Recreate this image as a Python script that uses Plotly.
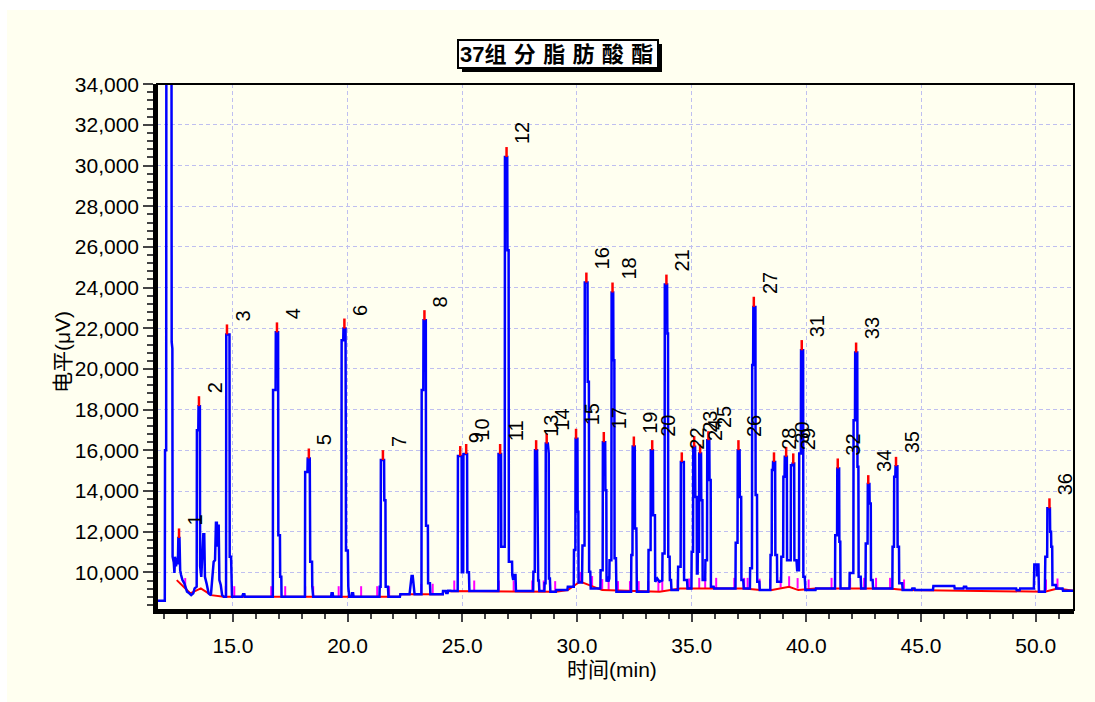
import plotly.graph_objects as go

# ---------------- data ----------------
# chromatogram signal (time in min, level in uV)
trace_time = [
    11.69, 12.03, 12.04, 12.09, 12.10, 12.32, 12.33, 12.36, 12.37, 12.42, 12.45, 12.48, 12.52, 12.55, 12.60,
    12.62, 12.67, 12.70, 12.74, 12.80, 12.88, 12.93, 13.00, 13.10, 13.18, 13.27, 13.33, 13.42, 13.43, 13.49,
    13.50, 13.56, 13.57, 13.62, 13.67, 13.71, 13.75, 13.78, 13.85, 13.94, 14.04, 14.10, 14.16, 14.22, 14.26,
    14.30, 14.32, 14.35, 14.38, 14.41, 14.47, 14.53, 14.60, 14.70, 14.71, 14.85, 14.86, 14.92, 14.93, 14.96,
    15.40, 15.44, 15.50, 15.52, 16.74, 16.75, 16.86, 16.87, 16.97, 16.98, 17.05, 17.06, 17.11, 17.12,
    18.14, 18.15, 18.25, 18.26, 18.35, 18.37, 18.45, 18.46, 18.50, 19.28, 19.30, 19.35, 19.37,
    19.73, 19.74, 19.81, 19.82, 19.91, 19.93, 20.01, 20.03, 20.07, 20.17, 20.19, 20.24, 20.26,
    21.39, 21.40, 21.44, 21.45, 21.59, 21.60, 21.65, 21.66, 21.76, 21.78, 22.28, 22.30, 22.70, 22.74,
    22.79, 22.84, 22.87, 22.92, 23.22, 23.23, 23.30, 23.31, 23.41, 23.42, 23.50, 23.51, 23.59, 23.61,
    24.15, 24.16, 24.28, 24.30, 24.36, 24.38, 24.50, 24.52, 24.80, 24.81, 24.97, 24.98, 25.04, 25.05,
    25.21, 25.22, 25.29, 25.31, 26.57, 26.58, 26.69, 26.70, 26.85, 26.86, 26.96, 26.97, 27.02, 27.03,
    27.17, 27.18, 27.22, 27.25, 27.32, 27.34, 28.09, 28.10, 28.16, 28.17, 28.26, 28.27, 28.30, 28.31,
    28.34, 28.36, 28.58, 28.59, 28.63, 28.64, 28.73, 28.74, 28.77, 28.78, 28.82, 28.84, 29.08, 29.10,
    29.58, 29.60, 29.86, 29.87, 29.93, 29.94, 30.02, 30.03, 30.06, 30.07, 30.22, 30.24, 30.33, 30.34,
    30.46, 30.47, 30.52, 30.53, 30.58, 30.60, 31.02, 31.03, 31.12, 31.13, 31.23, 31.24, 31.28, 31.29,
    31.33, 31.37, 31.41, 31.42, 31.50, 31.51, 31.58, 31.59, 31.63, 31.64, 31.70, 31.72, 32.36, 32.37,
    32.42, 32.43, 32.52, 32.53, 32.59, 32.61, 33.11, 33.12, 33.21, 33.22, 33.31, 33.32, 33.40, 33.41,
    33.50, 33.60, 33.72, 33.73, 33.82, 33.83, 33.93, 33.94, 33.97, 33.98, 34.04, 34.05, 34.10, 34.12,
    34.40, 34.41, 34.52, 34.53, 34.66, 34.67, 34.80, 34.82, 34.99, 35.00, 35.06, 35.07, 35.15, 35.16,
    35.22, 35.23, 35.26, 35.27, 35.32, 35.33, 35.41, 35.42, 35.47, 35.48, 35.59, 35.60, 35.67, 35.68,
    35.77, 35.78, 35.83, 35.84, 35.96, 35.98, 36.91, 36.92, 37.00, 37.01, 37.09, 37.10, 37.16, 37.17,
    37.25, 37.27, 37.54, 37.55, 37.63, 37.64, 37.68, 37.69, 37.78, 37.79, 37.85, 37.86, 37.95, 37.97,
    38.43, 38.44, 38.49, 38.50, 38.54, 38.55, 38.64, 38.65, 38.72, 38.73, 38.90, 38.91, 38.99, 39.00,
    39.05, 39.06, 39.15, 39.16, 39.32, 39.33, 39.39, 39.40, 39.47, 39.48, 39.57, 39.60, 39.68, 39.69,
    39.76, 39.77, 39.86, 39.87, 39.93, 39.96, 40.40, 40.42, 41.25, 41.26, 41.34, 41.35, 41.43, 41.44,
    41.48, 41.49, 41.88, 41.89, 42.05, 42.06, 42.12, 42.13, 42.22, 42.23, 42.27, 42.28, 42.37, 42.39,
    42.58, 42.59, 42.67, 42.68, 42.75, 42.76, 42.81, 42.82, 42.89, 42.91, 43.75, 43.76, 43.82, 43.83,
    43.88, 43.89, 43.97, 43.98, 44.04, 44.05, 44.18, 44.20, 44.60, 44.62, 44.72, 44.74, 45.52, 45.54,
    46.45, 46.47, 46.85, 46.87, 46.97, 46.99, 49.15, 49.17, 49.30, 49.32, 49.92, 49.94, 50.05, 50.06,
    50.08, 50.12, 50.14, 50.40, 50.42, 50.50, 50.51, 50.62, 50.63, 50.67, 50.68, 50.72, 50.73, 50.88,
    50.90, 51.17, 51.19, 51.67,
]
trace_uv = [
    8610, 8610, 16000, 16000, 40000, 40000, 21330, 21000, 10770, 10500, 9970, 10770, 10300, 10700, 10400,
    11690, 11690, 10110, 9870, 9620, 9460, 9290, 9050, 8970, 8880, 8970, 9210, 9300, 16990, 16990,
    18170, 18170, 10300, 9780, 10930, 11880, 11880, 9780, 9460, 8970, 8880, 9620, 10520, 10600, 12440,
    12440, 11260, 12290, 12290, 9620, 9380, 8880, 8800, 8800, 21700, 21700, 10770, 10770, 9780, 8800,
    8800, 8920, 8920, 8800, 8800, 18960, 18960, 21800, 21800, 11830, 11830, 9780, 9780, 8800,
    8800, 14940, 14940, 15600, 15600, 10520, 10520, 9300, 8800, 8800, 8970, 8970, 8800,
    8800, 21410, 21410, 21990, 21990, 11070, 11070, 9300, 8800, 8800, 8970, 8970, 8800,
    8800, 9290, 9290, 15520, 15520, 13550, 13550, 9290, 9290, 8800, 8800, 8920, 8920, 9300,
    9820, 9820, 9300, 8920, 8920, 18970, 18970, 22400, 22400, 12290, 12290, 9460, 9460, 8920,
    8920, 9080, 9080, 8980, 8980, 9100, 9100, 9080, 9080, 15720, 15720, 10000, 10000, 15820,
    15820, 10000, 10000, 9080, 9080, 15820, 15820, 11260, 11260, 30420, 30420, 25840, 25840, 10520,
    10520, 9870, 9620, 9870, 9870, 9080, 9080, 10030, 10030, 16010, 16010, 13000, 13000, 9600,
    9600, 9080, 9080, 9460, 9460, 16330, 16330, 15850, 15850, 9700, 9700, 9050, 9050, 9130,
    9130, 9290, 9290, 11100, 11100, 16570, 16570, 12980, 12980, 9500, 9500, 11320, 11320, 24250,
    24250, 19370, 19370, 10030, 10030, 9210, 9210, 10110, 10110, 16400, 16400, 14040, 14040, 9540,
    9800, 9540, 9700, 10600, 10600, 23760, 23760, 20430, 20430, 10690, 10690, 9050, 9050, 10850,
    10850, 16190, 16190, 12160, 12160, 9050, 9050, 11100, 11100, 16010, 16010, 12810, 12810, 9540,
    9700, 9540, 9600, 10930, 10930, 24150, 24150, 21740, 21740, 10770, 10770, 9620, 9620, 9130,
    9130, 10280, 10280, 15430, 15430, 9620, 9620, 9210, 9210, 11010, 11010, 16170, 16170, 13710,
    13710, 9950, 9950, 11010, 11010, 15850, 15850, 13550, 13550, 9620, 9620, 10600, 10600, 16500,
    16500, 14540, 14540, 9290, 9290, 9210, 9210, 11460, 11460, 16010, 16010, 13710, 13710, 9620,
    9620, 9210, 9210, 10200, 10200, 20190, 20190, 23050, 23050, 13800, 13800, 9540, 9540, 9130,
    9130, 10850, 10850, 15030, 15030, 15430, 15430, 10850, 10850, 9540, 9540, 10770, 10770, 14700,
    14700, 15680, 15680, 10600, 10600, 15270, 15270, 15350, 15350, 10600, 10600, 10110, 10110, 15850,
    15850, 20920, 20920, 9780, 9780, 9130, 9130, 9210, 9210, 11830, 11830, 15110, 15110, 11500,
    11500, 9210, 9210, 9970, 9970, 17480, 17480, 20810, 20810, 15190, 15190, 9780, 9780, 9210,
    9210, 11420, 11420, 14340, 14340, 13390, 13390, 9620, 9620, 9210, 9210, 11260, 11260, 14700,
    14700, 15220, 15220, 11260, 11260, 9460, 9460, 9130, 9130, 9210, 9210, 9130, 9130, 9330,
    9330, 9210, 9210, 9290, 9290, 9210, 9210, 9120, 9120, 9210, 9210, 10390, 10390, 9800,
    10390, 10390, 9050, 9050, 10770, 10770, 13150, 13150, 12000, 12000, 11260, 11260, 9380, 9380,
    9210, 9210, 9100, 9100,
]

# identified peaks: label, retention time, marked apex (red) and drawn apex (blue)
peak_labels = ["1", "2", "3", "4", "5", "6", "7", "8", "9", "10", "11", "12", "13", "14", "15", "16",
               "17", "18", "19", "20", "21", "22", "23", "24", "25", "26", "27", "28", "29", "30",
               "31", "32", "33", "34", "35", "36"]
peak_rt = [12.65, 13.52, 14.74, 16.92, 18.31, 19.86, 21.54, 23.35, 24.91, 25.17, 26.65, 26.93,
           28.22, 28.68, 29.96, 30.41, 31.17, 31.55, 32.48, 33.28, 33.90, 34.57, 35.11, 35.37,
           35.73, 37.04, 37.71, 38.59, 39.43, 39.12, 39.80, 41.37, 42.17, 42.70, 43.91, 50.60]
peak_top_uv = [12160, 18660, 22190, 22290, 16090, 22480, 16010, 22890, 16210, 16310, 16310, 30910,
               16500, 16830, 17060, 24740, 16900, 24250, 16680, 16500, 24640, 15900, 16700, 16290,
               16940, 16500, 23550, 15900, 15850, 16170, 21420, 15600, 21300, 14780, 15680, 13640]
peak_apex_uv = [11690, 18170, 21700, 21800, 15600, 21990, 15520, 22400, 15720, 15820, 15820, 30420,
                16010, 16330, 16570, 24250, 16400, 23760, 16190, 16010, 24150, 15430, 16170, 15850,
                16500, 16010, 23050, 15430, 15350, 15680, 20920, 15110, 20810, 14340, 15220, 13150]

# integration baseline (red)
baseline_time = [12.55, 13.14, 13.60, 13.90, 14.05, 14.60, 22.28, 22.30, 24.15, 24.16, 29.08, 29.60,
                 30.14, 31.10, 33.60, 34.50, 37.30, 38.00, 38.50, 39.25, 39.65, 40.40, 43.60, 44.30,
                 50.40, 50.95, 51.67]
baseline_uv = [9620, 8970, 9210, 8960, 8880, 8800, 8800, 8920, 8920, 9080, 9050, 9130,
               9550, 9130, 9050, 9210, 9210, 9130, 9130, 9290, 9130, 9210, 9210, 9130,
               9050, 9210, 9100]

# peak start / end markers (magenta)
mark_time = [12.92, 14.69, 15.06, 16.67, 17.28, 18.15, 18.50, 19.61, 20.59, 21.29, 21.81, 23.21,
             23.71, 24.65, 25.52, 26.59, 27.24, 28.05, 28.55, 29.05, 30.14, 30.66, 31.10, 31.38,
             31.79, 32.31, 32.69, 33.11, 33.55, 33.72, 34.39, 34.89, 35.33, 35.59, 36.07, 36.86,
             37.29, 37.44, 37.96, 38.42, 38.88, 39.25, 39.62, 40.10, 41.10, 41.91, 42.52, 43.04,
             43.65, 44.26, 50.45, 50.95]
mark_base_uv = [9200, 8800, 8800, 8800, 8800, 8800, 8800, 8800, 8800, 8800, 8800, 8920,
                8920, 9080, 9080, 9080, 9080, 9080, 9080, 9050, 9500, 9300, 9150, 9100,
                9050, 9050, 9050, 9050, 9080, 9100, 9130, 9180, 9210, 9210, 9210, 9210,
                9210, 9210, 9170, 9170, 9250, 9290, 9200, 9130, 9210, 9210, 9210, 9210,
                9210, 9130, 9130, 9180]

x_tick_vals = [15, 20, 25, 30, 35, 40, 45, 50]
x_tick_text = ["15.0", "20.0", "25.0", "30.0", "35.0", "40.0", "45.0", "50.0"]
y_tick_vals = [10000, 12000, 14000, 16000, 18000, 20000, 22000, 24000, 26000, 28000, 30000, 32000, 34000]
y_tick_text = ["10,000", "12,000", "14,000", "16,000", "18,000", "20,000", "22,000", "24,000",
               "26,000", "28,000", "30,000", "32,000", "34,000"]

title_text = "37组\u2004分\u2004脂\u2004肪\u2004酸\u2004酯"
x_title = "时间(min)"
y_title = "电平(μV)"

# ---------------- styling ----------------
MARK_LEN = 520
CREAM = "#FFFFF0"
GRID = "#BFBFF0"
LATIN = "Liberation Sans, Arial, Noto Sans CJK SC, sans-serif"
W, H = 1095, 702
ML, MR, MT, MB = 157, 21, 84, 92
PW, PH = W - ML - MR, H - MT - MB


def px_x(p):
    return (p - ML) / PW


def px_y(p):
    return (H - MB - p) / PH


fig = go.Figure()

mx, my = [], []
for t, b in zip(mark_time, mark_base_uv):
    mx += [t, t, None]
    my += [b, b + MARK_LEN, None]
fig.add_trace(go.Scatter(x=mx, y=my, mode="lines", line=dict(color="#FF00FF", width=2),
                         hoverinfo="skip"))

fig.add_trace(go.Scatter(x=baseline_time, y=baseline_uv, mode="lines",
                         line=dict(color="#FF0000", width=2), hoverinfo="skip"))

fig.add_trace(go.Scatter(x=trace_time, y=trace_uv, mode="lines",
                         line=dict(color="#0000FF", width=2.5)))

rx, ry = [], []
for t, a, p in zip(peak_rt, peak_apex_uv, peak_top_uv):
    rx += [t, t, None]
    ry += [a, p, None]
fig.add_trace(go.Scatter(x=rx, y=ry, mode="lines", line=dict(color="#FF0000", width=2.5),
                         hoverinfo="skip"))

for lab, t, p in zip(peak_labels, peak_rt, peak_top_uv):
    fig.add_annotation(x=t, y=p, text=lab, textangle=-90, showarrow=False,
                       xanchor="center", yanchor="bottom", xshift=15.5, yshift=1,
                       font=dict(family=LATIN, size=20, color="black"))

# axis titles
fig.add_annotation(xref="paper", yref="paper", x=px_x(612), y=px_y(669), text=x_title,
                   showarrow=False, xanchor="center", yanchor="middle",
                   font=dict(family=LATIN, size=21, color="black"))
fig.add_annotation(xref="paper", yref="paper", x=px_x(62), y=px_y(352), text=y_title,
                   textangle=-90, showarrow=False, xanchor="center", yanchor="middle",
                   font=dict(family=LATIN, size=21, color="black"))

# title box with shadow
shapes = [
    dict(type="rect", xref="paper", yref="paper", x0=px_x(7), x1=px_x(1100), y0=px_y(710), y1=px_y(10),
         fillcolor=CREAM, line=dict(width=0), layer="below"),
    dict(type="rect", xref="paper", yref="paper", x0=0, x1=1, y0=0, y1=1,
         line=dict(color="black", width=2), layer="above"),
    dict(type="rect", xref="paper", yref="paper", x0=px_x(462), x1=px_x(662), y0=px_y(72), y1=px_y(44),
         fillcolor="black", line=dict(width=0), layer="above"),
    dict(type="rect", xref="paper", yref="paper", x0=px_x(458), x1=px_x(658), y0=px_y(68), y1=px_y(40),
         fillcolor="white", line=dict(color="black", width=2), layer="above"),
]
fig.add_annotation(xref="paper", yref="paper", x=px_x(556), y=px_y(55), text=title_text,
                   showarrow=False, xanchor="center", yanchor="middle",
                   font=dict(family=LATIN, size=22, color="black", weight="bold"))

fig.update_layout(
    width=W, height=H, margin=dict(l=ML, r=MR, t=MT, b=MB),
    paper_bgcolor="white", plot_bgcolor=CREAM, showlegend=False, shapes=shapes,
    xaxis=dict(range=[11.69, 51.67], tickmode="array", tickvals=x_tick_vals, ticktext=x_tick_text,
               ticks="outside", ticklen=8, tickwidth=2, tickcolor="#444444",
               showline=True, linecolor="black", linewidth=3.5,
               showgrid=True, gridcolor=GRID, gridwidth=1, griddash="4px,3px", zeroline=False,
               tickfont=dict(family=LATIN, size=21, color="black"), ticklabelstandoff=6,
               minor=dict(tickmode="linear", tick0=0, dtick=1, ticks="outside", ticklen=5,
                          tickwidth=2, tickcolor="#444444", showgrid=False)),
    yaxis=dict(range=[8150, 34010], tickmode="array", tickvals=y_tick_vals, ticktext=y_tick_text,
               ticks="outside", ticklen=10, tickwidth=2, tickcolor="#444444",
               showline=True, linecolor="black", linewidth=3.5,
               showgrid=True, gridcolor=GRID, gridwidth=1, griddash="4px,3px", zeroline=False,
               tickfont=dict(family=LATIN, size=21, color="black"),
               minor=dict(tickmode="linear", tick0=0, dtick=400, ticks="outside", ticklen=6,
                          tickwidth=2, tickcolor="#444444", showgrid=False)),
)

fig.write_html("out.html")
